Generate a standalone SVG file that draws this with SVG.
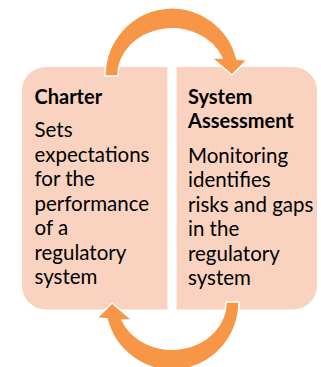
<svg xmlns="http://www.w3.org/2000/svg" width="321" height="367" viewBox="0 0 321 367">
<style>
.box{fill:#F9D3C0;stroke:#FFFFFF;stroke-width:2}
.arrow{fill:#F79646;stroke:#FFFFFF;stroke-width:1.5;stroke-linejoin:miter}
.t{font-family:Lato,"Liberation Sans",Arial,sans-serif;fill:#000000}
.title{font-size:20px;font-weight:bold}
.body{font-size:20.5px}
</style>
<defs>
<path id="arc" d="M105 76 A67 68 0 0 1 236.9 59 L247 60 L232 75 L212 58 L222 58 A54 47 0 0 0 118 76 Z"/>
</defs>
<rect width="321" height="367" fill="#FFFFFF"/>
<g id="charter">
<path class="box" d="M46 66 H168.5 V310.5 H46 A25 25 0 0 1 21 285.5 V91 A25 25 0 0 1 46 66 Z"/>
<text class="t title" x="34.5" y="104">Charter</text>
<text class="t body" x="34.5" y="137">Sets</text>
<text class="t body" x="34.5" y="161.5">expectations</text>
<text class="t body" x="34.5" y="186">for the</text>
<text class="t body" x="34.5" y="210.5">performance</text>
<text class="t body" x="34.5" y="235">of a</text>
<text class="t body" x="34.5" y="259.5">regulatory</text>
<text class="t body" x="34.5" y="284">system</text>
</g>
<g id="system-assessment">
<path class="box" d="M175.5 66 H293 A25 25 0 0 1 318 91 V285.5 A25 25 0 0 1 293 310.5 H175.5 Z"/>
<text class="t title" x="188" y="104">System</text>
<text class="t title" x="188" y="127.5">Assessment</text>
<text class="t body" x="188" y="162.5">Monitoring</text>
<text class="t body" x="188" y="187">identifies</text>
<text class="t body" x="188" y="211.5">risks and gaps</text>
<text class="t body" x="188" y="236">in the</text>
<text class="t body" x="188" y="260.5">regulatory</text>
<text class="t body" x="188" y="285">system</text>
</g>
<g id="connectors">
<use href="#arc" class="arrow"/>
<use href="#arc" class="arrow" transform="rotate(180 172 189)"/>
</g>
</svg>
